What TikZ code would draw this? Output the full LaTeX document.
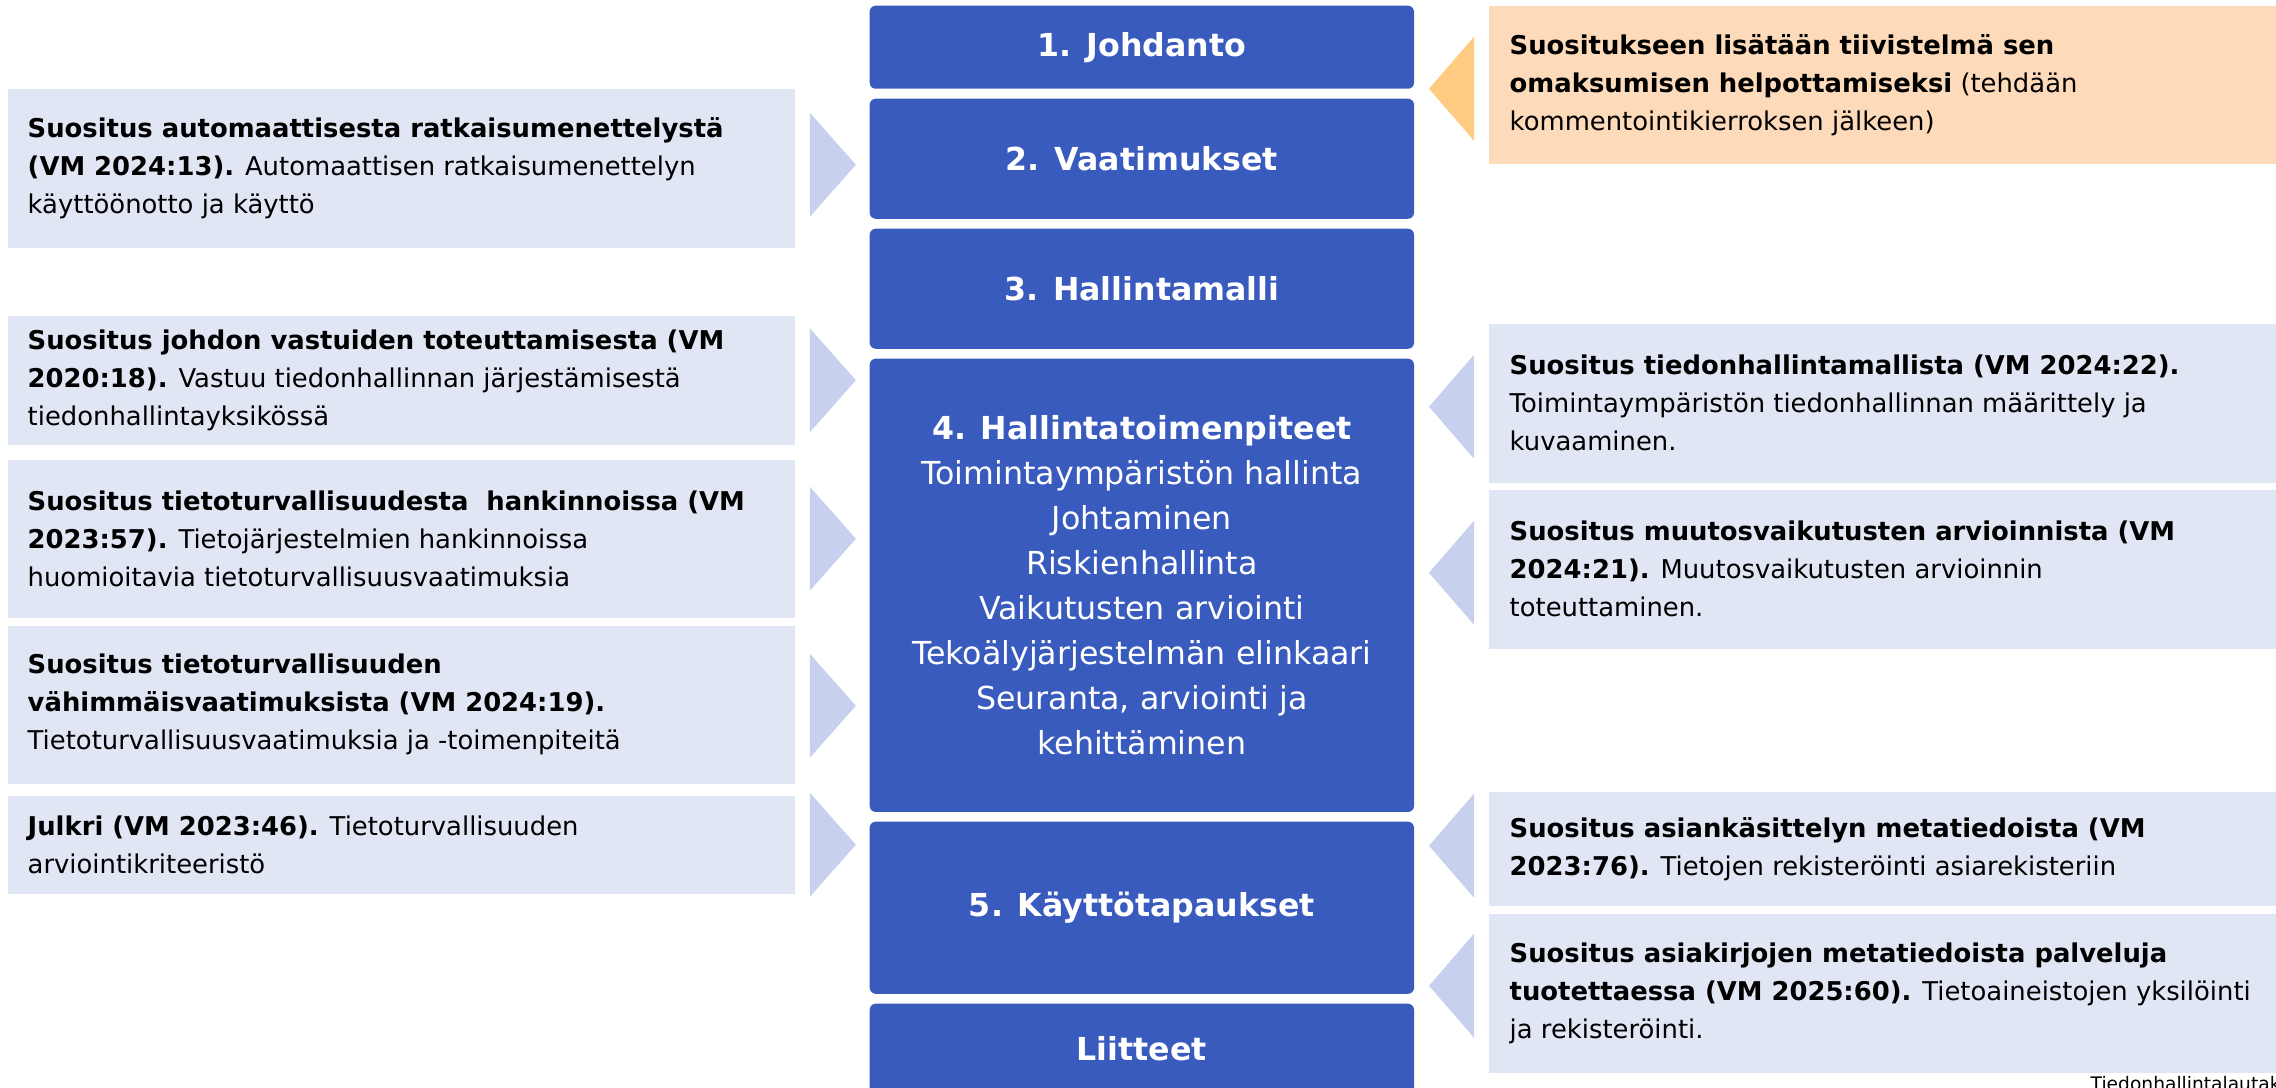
\documentclass[tikz,border=0pt]{standalone}
\usepackage{fontspec}
\setmainfont{DejaVu Sans}
\usetikzlibrary{calc}
\definecolor{colBlue}{RGB}{57,91,190}
\definecolor{colLbox}{RGB}{225,230,245}
\definecolor{colTri}{RGB}{199,208,236}
\definecolor{colObox}{RGB}{253,218,185}
\definecolor{colOtri}{RGB}{254,203,128}
\newcommand{\sidefont}{\fontsize{7.35pt}{10.8pt}\selectfont}
\newcommand{\cenfont}{\fontsize{9pt}{12.8pt}\selectfont}
\newcommand{\mkLtri}[2]{\fill[lefttri] ($(#1.east)+(14,#2-52)$) -- ($(#1.east)+(60,#2)$) -- ($(#1.east)+(14,#2+52)$) -- cycle;}
\newcommand{\mkRtri}[3][righttri]{\fill[#1] ($(#2.west)+(-14,#3-52)$) -- ($(#2.west)+(-59,#3)$) -- ($(#2.west)+(-14,#3+52)$) -- cycle;}
\begin{document}
\begin{tikzpicture}[x=0.01cm,y=-0.01cm,
  cbox/.style={fill=colBlue, rounded corners=0.06cm, anchor=north west, minimum width=5.44cm, inner sep=0pt, text=white, font=\cenfont, align=center},
  sbox/.style={fill=colLbox, anchor=north west, inner sep=0pt, minimum width=7.87cm},
  rbox/.style={fill=colLbox, anchor=north west, inner sep=0pt, minimum width=7.88cm},
  obx/.style={fill=colObox, anchor=north west, inner sep=0pt, minimum width=7.88cm},
  stext/.style={anchor=west, align=left, inner sep=0pt, font=\sidefont, text=black},
  lefttri/.style={fill=colTri},
  righttri/.style={fill=colTri},
  orangetri/.style={fill=colOtri}]
\useasboundingbox (0,0) rectangle (2276,1088);
\begin{scope}
\clip (0,0) rectangle (2276,1088);
% central column
\node[cbox, minimum height=0.83cm] (C1) at (869,5) {\bfseries 1. Johdanto};
\node[cbox, minimum height=1.2cm] (C2) at (869,98) {\bfseries 2. Vaatimukset};
\node[cbox, minimum height=1.2cm] (C3) at (869,228) {\bfseries 3. Hallintamalli};
\node[cbox, minimum height=4.53cm] (C4) at (869,358) {\textbf{4. Hallintatoimenpiteet}\\Toimintaympäristön hallinta\\Johtaminen\\Riskienhallinta\\Vaikutusten arviointi\\Tekoälyjärjestelmän elinkaari\\Seuranta, arviointi ja\\kehittäminen};
\node[cbox, minimum height=1.72cm] (C5) at (869,821) {\bfseries 5. Käyttötapaukset};
\node[cbox, minimum height=0.9cm] (C6) at (869,1003) {\bfseries Liitteet};
% left boxes
\node[sbox, minimum height=1.59cm] (L1) at (7,88) {};
\node[stext] (L1t) at ($(L1.west)+(20,0)$) {\textbf{Suositus automaattisesta ratkaisumenettelystä}\\\textbf{(VM 2024:13).} Automaattisen ratkaisumenettelyn\\käyttöönotto ja käyttö};
\node[sbox, minimum height=1.29cm] (L2) at (7,315) {};
\node[stext] (L2t) at ($(L2.west)+(20,0)$) {\textbf{Suositus johdon vastuiden toteuttamisesta (VM}\\\textbf{2020:18).} Vastuu tiedonhallinnan järjestämisestä\\tiedonhallintayksikössä};
\node[sbox, minimum height=1.58cm] (L3) at (7,459) {};
\node[stext] (L3t) at ($(L3.west)+(20,0)$) {\textbf{Suositus tietoturvallisuudesta\ \ hankinnoissa (VM}\\\textbf{2023:57).} Tietojärjestelmien hankinnoissa\\huomioitavia tietoturvallisuusvaatimuksia};
\node[sbox, minimum height=1.58cm] (L4) at (7,625) {};
\node[stext] (L4t) at ($(L4.west)+(20,0)$) {\textbf{Suositus tietoturvallisuuden}\\\textbf{vähimmäisvaatimuksista (VM 2024:19).}\\Tietoturvallisuusvaatimuksia ja -toimenpiteitä};
\node[sbox, minimum height=0.98cm] (L5) at (7,795) {};
\node[stext] (L5t) at ($(L5.west)+(20,0)$) {\textbf{Julkri (VM 2023:46).} Tietoturvallisuuden\\arviointikriteeristö};
% right boxes
\node[obx, minimum height=1.58cm] (O) at (1488,5) {};
\node[stext] (Ot) at ($(O.west)+(21,0)$) {\textbf{Suositukseen lisätään tiivistelmä sen}\\\textbf{omaksumisen helpottamiseksi} (tehdään\\kommentointikierroksen jälkeen)};
\node[rbox, minimum height=1.59cm] (R1) at (1488,323) {};
\node[stext] (R1t) at ($(R1.west)+(21,0)$) {\textbf{Suositus tiedonhallintamallista (VM 2024:22).}\\Toimintaympäristön tiedonhallinnan määrittely ja\\kuvaaminen.};
\node[rbox, minimum height=1.59cm] (R2) at (1488,489) {};
\node[stext] (R2t) at ($(R2.west)+(21,0)$) {\textbf{Suositus muutosvaikutusten arvioinnista (VM}\\\textbf{2024:21).} Muutosvaikutusten arvioinnin\\toteuttaminen.};
\node[rbox, minimum height=1.14cm] (R3) at (1488,791) {};
\node[stext] (R3t) at ($(R3.west)+(21,0)$) {\textbf{Suositus asiankäsittelyn metatiedoista (VM}\\\textbf{2023:76).} Tietojen rekisteröinti asiarekisteriin};
\node[rbox, minimum height=1.59cm] (R4) at (1488,913) {};
\node[stext] (R4t) at ($(R4.west)+(21,0)$) {\textbf{Suositus asiakirjojen metatiedoista palveluja}\\\textbf{tuotettaessa (VM 2025:60).} Tietoaineistojen yksilöinti\\ja rekisteröinti.};
% chevrons
\mkLtri{L1}{-3.5}
\mkLtri{L2}{0}
\mkLtri{L3}{0}
\mkLtri{L4}{1}
\mkLtri{L5}{0}
\mkRtri[orangetri]{O}{4}
\mkRtri{R1}{3.5}
\mkRtri{R2}{3.5}
\mkRtri{R3}{-3}
\mkRtri{R4}{-7.5}
% footer
\node[anchor=base west, inner sep=0pt, font=\fontsize{5.3pt}{6pt}\selectfont] (foot) at (2090,1090) {Tiedonhallintalautakunta};
\end{scope}
\end{tikzpicture}
\end{document}
